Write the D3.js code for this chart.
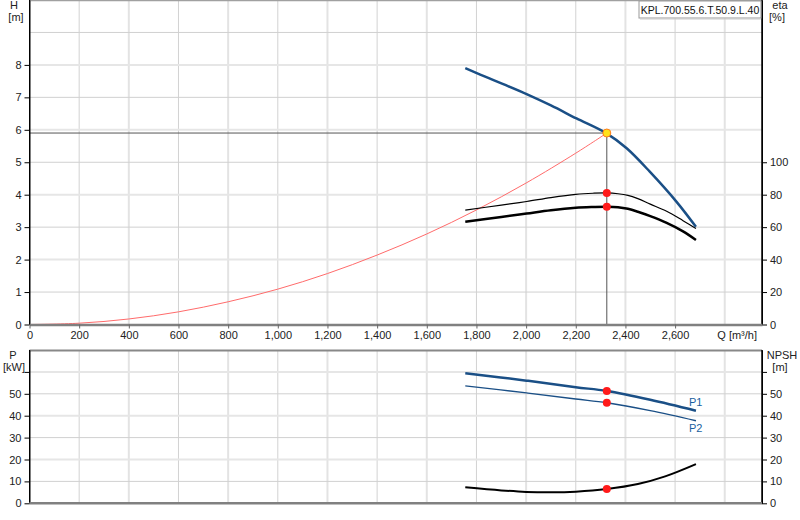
<!DOCTYPE html>
<html>
<head>
<meta charset="utf-8">
<script src="https://cdn.jsdelivr.net/npm/d3@7"></script>
<style>
  body { margin: 0; background: #fff; }
  svg { font-family: "Liberation Sans", Arial, sans-serif; font-size: 11px; }
  .tick text { fill: #222; font-size: 11px; }
</style>
</head>
<body>
<svg width="800" height="520"></svg>
<script>
// --- data ---
var qTicks = [0, 200, 400, 600, 800, 1000, 1200, 1400, 1600, 1800, 2000, 2200, 2400, 2600];

// pump head curve H(Q)
var hQ = [1755, 1850, 2002, 2100, 2203, 2324, 2405, 2498, 2606, 2684];
var hVal = [7.9, 7.59, 7.10, 6.75, 6.35, 5.89, 5.43, 4.71, 3.78, 3.01];

// system curve
var sysQ = [0, 200, 400, 600, 800, 1000, 1200, 1400, 1600, 1800, 2000, 2200, 2325];
var sysH = [0, 0.04, 0.17, 0.39, 0.70, 1.09, 1.57, 2.14, 2.79, 3.53, 4.36, 5.28, 5.9];

// efficiency curves (%)
var etaQ = [1755, 1900, 2002, 2100, 2200, 2270, 2325, 2370, 2410, 2450, 2500, 2566, 2632, 2684];
var eta1 = [70.5, 73.6, 75.8, 78.2, 80.2, 80.9, 81.1, 80.6, 79.6, 77.6, 74.2, 69.8, 64.0, 59.2];
var eta2 = [63.3, 66.3, 68.4, 70.4, 71.9, 72.4, 72.6, 72.3, 71.3, 69.5, 66.8, 62.6, 57.4, 52.1];

// power curves (kW)
var pQ = [1755, 2002, 2200, 2325, 2500, 2684];
var p1 = [59.4, 56.0, 53.0, 51.3, 47.3, 42.3];
var p2 = [53.6, 50.4, 47.6, 45.9, 42.3, 37.7];

// NPSH (m)
var nQ = [1755, 1900, 2000, 2100, 2200, 2325, 2450, 2560, 2684];
var nVal = [7.3, 5.9, 5.2, 5.0, 5.3, 6.5, 8.8, 12.3, 17.9];

// duty point
var dutyQ = 2325, dutyH = 5.9, dutyEta1 = 81.1, dutyEta2 = 72.6;
var dutyP1 = 51.3, dutyP2 = 45.9, dutyN = 6.5;

var title = "KPL.700.55.6.T.50.9.L.40";

// --- layout ---
var left = 29.5, right = 762;
var svg = d3.select("svg");

var x = d3.scaleLinear().domain([0, 2950]).range([left, right]);
var yH = d3.scaleLinear().domain([0, 10]).range([324.5, 0]);
var yEta = d3.scaleLinear().domain([0, 200]).range([324.5, 0]);
var yP = d3.scaleLinear().domain([0, 70]).range([503.3, 350]);
var yN = d3.scaleLinear().domain([0, 70]).range([503.3, 350]);

function grid(g, yScale, yVals, y0, y1) {
  g.selectAll(".vg").data(qTicks.slice(1).concat([2800])).enter().append("line")
    .attr("x1", function(d){ return x(d); }).attr("x2", function(d){ return x(d); })
    .attr("y1", y0).attr("y2", y1)
    .attr("stroke", function(d,i){ return i % 2 ? "#e3e3e3" : "#d2d2d2"; })
    .attr("stroke-width", function(d,i){ return i % 2 ? 2 : 1; });
  g.selectAll(".hg").data(yVals).enter().append("line")
    .attr("x1", left).attr("x2", right)
    .attr("y1", function(d){ return yScale(d); }).attr("y2", function(d){ return yScale(d); })
    .attr("stroke", function(d,i){ return i % 2 ? "#e6e6e6" : "#d0d0d0"; })
    .attr("stroke-width", function(d,i){ return i % 2 ? 2 : 1; });
}

// top panel grid
grid(svg.append("g"), yH, [1,2,3,4,5,6,7,8,9], 0, 324.5);
svg.append("line").attr("x1", left).attr("x2", right).attr("y1", 0.5).attr("y2", 0.5)
  .attr("stroke", "#a0a0a0").attr("stroke-width", 1.5);

// bottom panel grid
grid(svg.append("g"), yP, [10,20,30,40,50,60], 350, 503.3);
svg.append("line").attr("x1", left).attr("x2", right).attr("y1", 350.5).attr("y2", 350.5)
  .attr("stroke", "#888").attr("stroke-width", 2);

var line = function(xs, ys, yScale) {
  return d3.line().curve(d3.curveCatmullRom)
    .x(function(d){ return x(d); })
    .y(function(d,i){ return yScale(ys[i]); })(xs);
};

// duty point lines
svg.append("line").attr("x1", left).attr("x2", x(dutyQ))
  .attr("y1", yH(dutyH)).attr("y2", yH(dutyH)).attr("stroke", "#555").attr("stroke-width", 1);
svg.append("line").attr("x1", x(dutyQ)).attr("x2", x(dutyQ))
  .attr("y1", yH(dutyH)).attr("y2", yH(0)).attr("stroke", "#555").attr("stroke-width", 1);

// system curve
svg.append("path").attr("d", line(sysQ, sysH, yH))
  .attr("fill", "none").attr("stroke", "#ff6b6b").attr("stroke-width", 1);

// efficiency
svg.append("path").attr("d", line(etaQ, eta1, yEta))
  .attr("fill", "none").attr("stroke", "#000").attr("stroke-width", 1.2);
svg.append("path").attr("d", line(etaQ, eta2, yEta))
  .attr("fill", "none").attr("stroke", "#000").attr("stroke-width", 2.5);

// head
svg.append("path").attr("d", line(hQ, hVal, yH))
  .attr("fill", "none").attr("stroke", "#1a4f86").attr("stroke-width", 2.5);

// power + npsh
svg.append("path").attr("d", line(pQ, p1, yP))
  .attr("fill", "none").attr("stroke", "#1a4f86").attr("stroke-width", 2.5);
svg.append("path").attr("d", line(pQ, p2, yP))
  .attr("fill", "none").attr("stroke", "#1a4f86").attr("stroke-width", 1.4);
svg.append("path").attr("d", line(nQ, nVal, yN))
  .attr("fill", "none").attr("stroke", "#000").attr("stroke-width", 2);

// red duty dots
[[yEta, dutyEta1], [yEta, dutyEta2], [yP, dutyP1], [yP, dutyP2], [yN, dutyN]].forEach(function(p){
  svg.append("circle").attr("cx", x(dutyQ)).attr("cy", p[0](p[1])).attr("r", 4).attr("fill", "#ff1a1a");
});
svg.append("circle").attr("cx", x(dutyQ)).attr("cy", yH(dutyH)).attr("r", 4)
  .attr("fill", "#ffe21a").attr("stroke", "#ff7a1a").attr("stroke-width", 1);

// P1 / P2 labels
svg.append("text").attr("x", x(2684) - 7).attr("y", yP(p1[p1.length-1]) - 5)
  .attr("fill", "#1a5fa0").text("P1");
svg.append("text").attr("x", x(2684) - 7).attr("y", yP(p2[p2.length-1]) + 11)
  .attr("fill", "#1a5fa0").text("P2");

// axes
function styleAxis(g) {
  g.select(".domain").attr("stroke", "#000");
  g.selectAll(".tick line").attr("stroke", "#000");
}
svg.append("g").attr("transform", "translate(" + left + ",0)")
  .call(d3.axisLeft(yH).tickValues([0,1,2,3,4,5,6,7,8]).tickSize(5).tickSizeOuter(0).tickPadding(3))
  .call(styleAxis);
svg.append("g").attr("transform", "translate(" + right + ",0)")
  .call(d3.axisRight(yEta).tickValues([0,20,40,60,80,100]).tickSize(5).tickSizeOuter(0).tickPadding(3))
  .call(styleAxis);
svg.append("g").attr("transform", "translate(" + left + ",0)")
  .call(d3.axisLeft(yP).tickValues([0,10,20,30,40,50,60]).tickSize(5).tickSizeOuter(0).tickPadding(3)
    .tickFormat(function(d){ return d === 60 ? "" : d; }))
  .call(styleAxis);
svg.append("g").attr("transform", "translate(" + right + ",0)")
  .call(d3.axisRight(yN).tickValues([0,10,20,30,40,50,60]).tickSize(5).tickSizeOuter(0).tickPadding(3)
    .tickFormat(function(d){ return d === 60 ? "" : d; }))
  .call(styleAxis);
// axis lines reach to panel tops
svg.append("line").attr("x1", left).attr("x2", left).attr("y1", 0).attr("y2", 324.5).attr("stroke", "#000");
svg.append("line").attr("x1", right).attr("x2", right).attr("y1", 0).attr("y2", 324.5).attr("stroke", "#000").attr("stroke-width", 1.5);
svg.append("line").attr("x1", left).attr("x2", left).attr("y1", 350).attr("y2", 503.3).attr("stroke", "#000");
svg.append("line").attr("x1", right).attr("x2", right).attr("y1", 350).attr("y2", 503.3).attr("stroke", "#000").attr("stroke-width", 1.5);

// x axis of top panel
var xa = svg.append("g").attr("transform", "translate(0," + yH(0) + ")")
  .call(d3.axisBottom(x).tickValues(qTicks).tickSize(4).tickSizeOuter(0).tickPadding(3)
    .tickFormat(d3.format(",")));
xa.select(".domain").attr("stroke", "#808080").attr("stroke-width", 2.5);
xa.selectAll(".tick line").attr("stroke", "#666");
svg.append("text").attr("x", 757).attr("y", 339).attr("text-anchor", "end")
  .attr("fill", "#222").text("Q [m³/h]");

// bottom x line
svg.append("line").attr("x1", left).attr("x2", right).attr("y1", yP(0)).attr("y2", yP(0))
  .attr("stroke", "#808080").attr("stroke-width", 2.5);

// unit labels
function unit(xp, y, txt) {
  svg.append("text").attr("x", xp).attr("y", y).attr("text-anchor", "middle").attr("fill", "#222").text(txt);
}
unit(14, 9, "H"); unit(16, 21, "[m]");
unit(780, 9, "eta"); unit(777, 21, "[%]");
unit(13, 359, "P"); unit(14, 371, "[kW]");
unit(782, 359, "NPSH"); unit(780, 371, "[m]");

// title box
var tb = svg.append("g");
tb.append("rect").attr("x", 639).attr("y", 1).attr("width", 122).attr("height", 17)
  .attr("fill", "#fff").attr("stroke", "#999");
tb.append("line").attr("x1", 640).attr("x2", 761).attr("y1", 19).attr("y2", 19).attr("stroke", "#ccc");
tb.append("text").attr("x", 700).attr("y", 13.5).attr("text-anchor", "middle")
  .attr("fill", "#111").attr("font-size", "10.5px").text(title);
</script>
</body>
</html>
